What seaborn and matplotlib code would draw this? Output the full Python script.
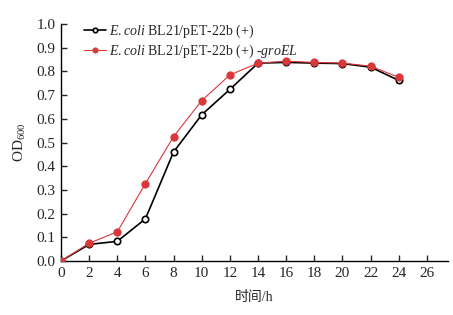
import matplotlib
matplotlib.use('Agg')
import matplotlib.pyplot as plt
import seaborn as sns
import pandas as pd

# growth curve data (time in h, OD600)
hours = [0, 2, 4, 6, 8, 10, 12, 14, 16, 18, 20, 22, 24]
od_control = [0.0, 0.070, 0.083, 0.178, 0.460, 0.617, 0.724, 0.835, 0.838, 0.835, 0.833, 0.818, 0.762]
od_groel = [0.0, 0.075, 0.123, 0.327, 0.525, 0.677, 0.785, 0.835, 0.843, 0.838, 0.835, 0.822, 0.775]

label_control = r'$\it{E.coli}$ BL21/pET-22b (+)'
label_groel = r'$\it{E.coli}$ BL21/pET-22b (+) -$\it{groEL}$'

x_ticks = list(range(0, 28, 2))
y_ticks = [0.0, 0.1, 0.2, 0.3, 0.4, 0.5, 0.6, 0.7, 0.8, 0.9, 1.0]

sns.set_style('ticks')
plt.rcParams['font.family'] = ['Liberation Serif', 'Noto Sans CJK SC', 'DejaVu Sans']
plt.rcParams['mathtext.fontset'] = 'custom'
plt.rcParams['mathtext.rm'] = 'Liberation Serif'
plt.rcParams['mathtext.it'] = 'Liberation Serif:italic'

df = pd.DataFrame({'hours': hours, 'control': od_control, 'groel': od_groel})

fig = plt.figure(figsize=(4.53, 3.15), dpi=100)
ax = fig.add_axes([61 / 453, 54 / 315, 387 / 453, 237 / 315])

sns.lineplot(data=df, x='hours', y='control', ax=ax, color='black', linewidth=1.2,
             marker='o', markersize=4.6, markerfacecolor='white', markeredgecolor='black',
             markeredgewidth=1.2, label=label_control, zorder=3)
sns.lineplot(data=df, x='hours', y='groel', ax=ax, color='#d9383a', linewidth=0.8,
             marker='o', markersize=5.2, markerfacecolor='#d9383a', markeredgecolor='#d9383a',
             label=label_groel, zorder=4)

ax.set_xlim(0, 27.5)
ax.set_ylim(0, 1.0)
ax.set_xticks(x_ticks)
ax.set_yticks(y_ticks)
ax.set_yticklabels([f'{v:.1f}' for v in y_ticks])
ax.tick_params(direction='in', length=4, width=1, labelsize=11, pad=4)
ax.set_xlabel('时间/h', fontsize=10, labelpad=8)
ax.set_ylabel(r'OD$_{600}$', fontsize=11, labelpad=6)
sns.despine(ax=ax)
for s in ['left', 'bottom']:
    ax.spines[s].set_linewidth(1.0)
    ax.spines[s].set_color('black')

ax.legend(loc='upper left', bbox_to_anchor=(0.045, 1.03), frameon=False, fontsize=10,
          handlelength=1.6, handletextpad=0.2, labelspacing=0.2, borderaxespad=0,
          markerscale=0.7)

fig.savefig('out.png', dpi=100)
